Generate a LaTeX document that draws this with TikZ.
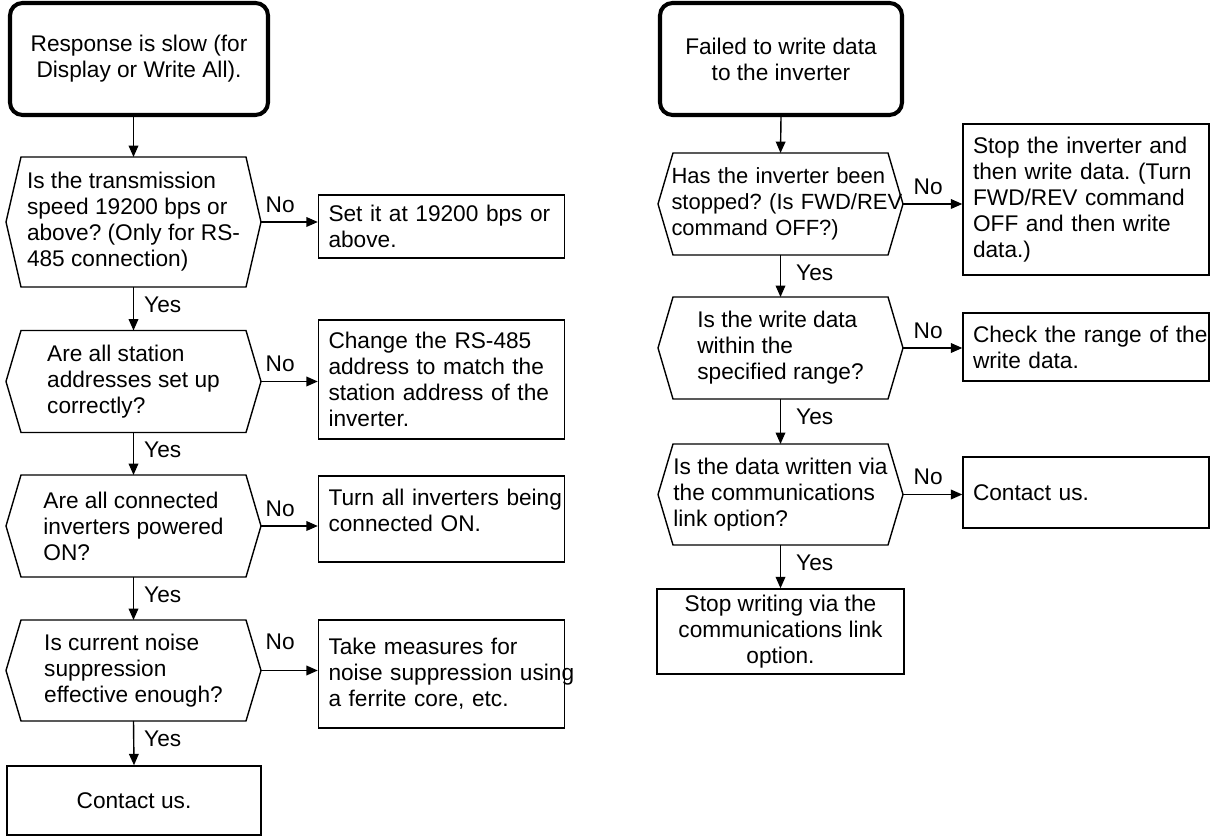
\documentclass[tikz,border=0pt]{standalone}
\usepackage{fontspec}
\setmainfont{Liberation Sans}
\usetikzlibrary{arrows.meta}
\frenchspacing

\begin{document}
\begin{tikzpicture}[
    font=\fontsize{12.9pt}{14.8pt}\selectfont,
    conductor/.style  = {line width=0.8pt},
    startbox/.style   = {draw, line width=2.3pt, rounded corners=0.25cm,
                         align=center, inner sep=0pt},
    % invisible frame, hexagon outline is drawn on its anchors
    decision/.style   = {minimum width=#1, minimum height=2.04cm,
                         inner sep=0pt, outer sep=0pt, align=left},
    decision/.default = 5.1cm,
    actbox/.style     = {draw, conductor, minimum height=#1,
                         text width=4.52cm, inner xsep=0.2cm,
                         inner ysep=0pt, align=left},
    endbox/.style     = {draw, conductor, align=center, inner sep=0pt},
    flow/.style       = {conductor, -{Triangle[length=6.5pt, width=5.5pt]}},
    yeslbl/.style     = {pos=0, anchor=north west, inner xsep=0.2cm,
                         inner ysep=0.18cm},
    nolbl/.style      = {pos=0, anchor=south west, inner xsep=0.08cm,
                         inner ysep=0.18cm},
]

\useasboundingbox (0,0) rectangle (24.2,16.72);

% ============================================================
%  LEFT CHART  --  slow response
% ============================================================

% start
\node[startbox, minimum width=5.16cm, minimum height=2.24cm] (TL) at (2.78, 15.54)
    {Response is slow (for\\Display or Write All).};

% ----------------------------------------------------------
%  DL1  --  transmission speed
% ----------------------------------------------------------
\node[decision, minimum height=2.6cm] (DL1) at (2.67, 12.28)
    {Is the transmission\\speed 19200 bps or\\above? (Only for RS-\\485 connection)};
\draw[conductor] ([xshift=3mm]DL1.north west) -- ([xshift=-3mm]DL1.north east) -- (DL1.east)
    -- ([xshift=-3mm]DL1.south east) -- ([xshift=3mm]DL1.south west) -- (DL1.west) -- cycle;
\node[actbox=1.26cm] (BL1) at (8.83, 12.19) {Set it at 19200 bps or\\above.};
\draw[flow] (TL.south -| DL1.north) -- (DL1.north);
\draw[flow] (DL1.east) -- node[nolbl] {No} (DL1.east -| BL1.west);

% ----------------------------------------------------------
%  DL2  --  station addresses
% ----------------------------------------------------------
\node[decision] (DL2) at (2.67, 9.09)
    {Are all station\\addresses set up\\correctly?};
\draw[conductor] ([xshift=3mm]DL2.north west) -- ([xshift=-3mm]DL2.north east) -- (DL2.east)
    -- ([xshift=-3mm]DL2.south east) -- ([xshift=3mm]DL2.south west) -- (DL2.west) -- cycle;
\node[actbox=2.38cm] (BL2) at (8.83, 9.13)
    {Change the RS-485\\address to match the\\station address of the\\inverter.};
\draw[flow] (DL1.south) -- node[yeslbl] {Yes} (DL2.north);
\draw[flow] (DL2.east) -- node[nolbl] {No} (DL2.east -| BL2.west);

% ----------------------------------------------------------
%  DL3  --  inverters powered
% ----------------------------------------------------------
\node[decision] (DL3) at (2.67, 6.20)
    {Are all connected\\inverters powered\\ON?};
\draw[conductor] ([xshift=3mm]DL3.north west) -- ([xshift=-3mm]DL3.north east) -- (DL3.east)
    -- ([xshift=-3mm]DL3.south east) -- ([xshift=3mm]DL3.south west) -- (DL3.west) -- cycle;
\node[actbox=1.72cm] (BL3) at (8.83, 6.34)
    {\mbox{Turn all inverters being}\\connected ON.\rule[-10pt]{0pt}{10pt}};
\draw[flow] (DL2.south) -- node[yeslbl] {Yes} (DL3.north);
\draw[flow] (DL3.east) -- node[nolbl] {No} (DL3.east -| BL3.west);

% ----------------------------------------------------------
%  DL4  --  noise suppression
% ----------------------------------------------------------
\node[decision, minimum height=2.02cm] (DL4) at (2.67, 3.31)
    {Is current noise\\suppression\\effective enough?};
\draw[conductor] ([xshift=3mm]DL4.north west) -- ([xshift=-3mm]DL4.north east) -- (DL4.east)
    -- ([xshift=-3mm]DL4.south east) -- ([xshift=3mm]DL4.south west) -- (DL4.west) -- cycle;
\node[actbox=2.16cm] (BL4) at (8.83, 3.24)
    {Take measures for\\\mbox{noise suppression using}\\a ferrite core, etc.};
\draw[flow] (DL3.south) -- node[yeslbl] {Yes} (DL4.north);
\draw[flow] (DL4.east) -- node[nolbl, yshift=0.22cm] {No} (DL4.east -| BL4.west);

% end
\node[endbox, minimum width=5.08cm, minimum height=1.38cm] (EL) at (2.68, 0.71) {Contact us.};
\draw[flow] (DL4.south) -- node[yeslbl] {Yes} (EL.north);

% ============================================================
%  RIGHT CHART  --  write failure
% ============================================================

% start
\node[startbox, minimum width=4.84cm, minimum height=2.24cm] (TR) at (15.62, 15.54)
    {Failed to write data\\to the inverter};

% ----------------------------------------------------------
%  DR1  --  inverter stopped
% ----------------------------------------------------------
\node[decision=4.9cm, text width=4.36cm, font=\fontsize{12.5pt}{14.8pt}\selectfont]
    (DR1) at (15.61, 12.64)
    {Has the inverter been\\\mbox{stopped? (Is FWD/REV}\\command OFF?)};
\draw[conductor] ([xshift=3mm]DR1.north west) -- ([xshift=-3mm]DR1.north east) -- (DR1.east)
    -- ([xshift=-3mm]DR1.south east) -- ([xshift=3mm]DR1.south west) -- (DR1.west) -- cycle;
\node[actbox=3.02cm] (BR1) at (21.72, 12.73)
    {Stop the inverter and\\then write data. (Turn\\FWD/REV command\\OFF and then write\\data.)};
\draw[flow] (TR.south) -- (DR1.north);
\draw[flow] (DR1.east) -- node[nolbl, xshift=0.12cm] {No} (DR1.east -| BR1.west);

% ----------------------------------------------------------
%  DR2  --  data range
% ----------------------------------------------------------
\node[decision=4.9cm] (DR2) at (15.61, 9.76)
    {Is the write data\\within the\\specified range?};
\draw[conductor] ([xshift=3mm]DR2.north west) -- ([xshift=-3mm]DR2.north east) -- (DR2.east)
    -- ([xshift=-3mm]DR2.south east) -- ([xshift=3mm]DR2.south west) -- (DR2.west) -- cycle;
\node[actbox=1.36cm] (BR2) at (21.72, 9.78) {\mbox{Check the range of the}\\write data.};
\draw[flow] (DR1.south) -- node[yeslbl, xshift=0.1cm] {Yes} (DR2.north);
\draw[flow] (DR2.east) -- node[nolbl, xshift=0.12cm] {No} (DR2.east -| BR2.west);

% ----------------------------------------------------------
%  DR3  --  link option
% ----------------------------------------------------------
\node[decision=4.9cm, minimum height=2.02cm] (DR3) at (15.61, 6.83)
    {Is the data written via\\the communications\\link option?};
\draw[conductor] ([xshift=3mm]DR3.north west) -- ([xshift=-3mm]DR3.north east) -- (DR3.east)
    -- ([xshift=-3mm]DR3.south east) -- ([xshift=3mm]DR3.south west) -- (DR3.west) -- cycle;
\node[actbox=1.42cm] (BR3) at (21.72, 6.87) {Contact us.};
\draw[flow] (DR2.south) -- node[yeslbl, xshift=0.1cm] {Yes} (DR3.north);
\draw[flow] (DR3.east) -- node[nolbl, xshift=0.12cm] {No} (DR3.east -| BR3.west);

% end
\node[endbox, minimum width=4.94cm, minimum height=1.7cm] (ER) at (15.61, 4.09)
    {Stop writing via the\\communications link\\option.};
\draw[flow] (DR3.south) -- node[yeslbl, xshift=0.1cm] {Yes} (ER.north);

\end{tikzpicture}
\end{document}
